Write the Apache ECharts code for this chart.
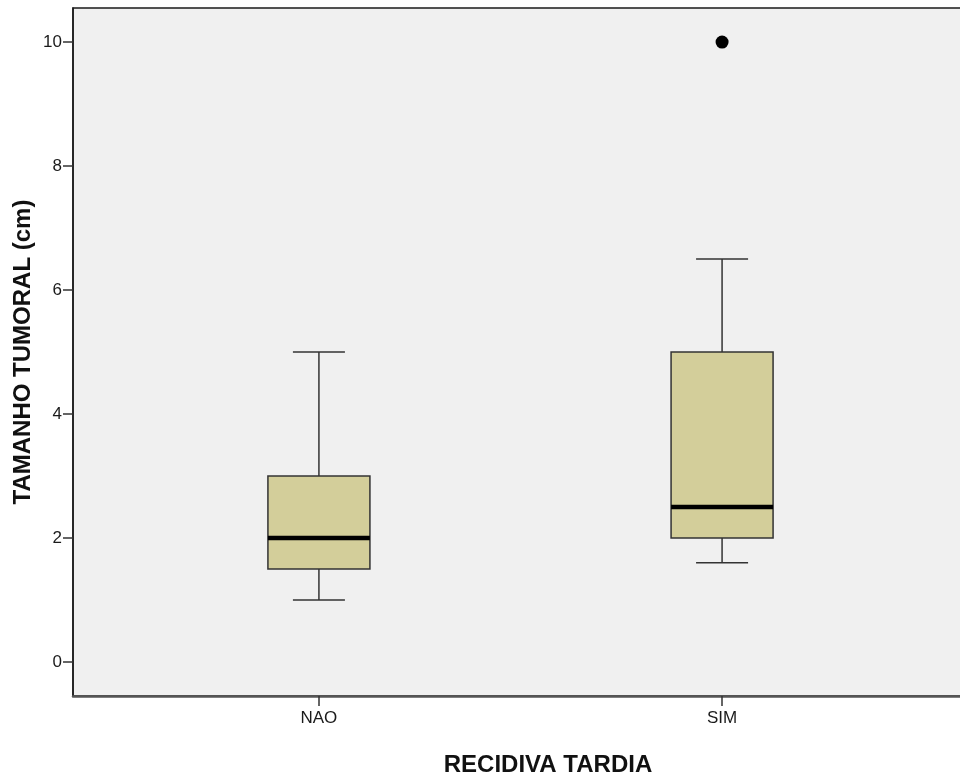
<!DOCTYPE html>
<html>
<head>
<meta charset="utf-8">
<title>Tamanho tumoral por recidiva tardia</title>
<script src="https://cdn.jsdelivr.net/npm/echarts@6/dist/echarts.min.js"></script>
<style>
  html, body { margin: 0; padding: 0; background: #ffffff; }
  #chart { width: 960px; height: 783px; }
</style>
</head>
<body>
<div id="chart"></div>
<script>
// Groups and five-number summaries (cm)
const categories = ['NAO', 'SIM'];
const whiskerLow = [1.0, 1.6];
const quartile1 = [1.5, 2.0];
const medians = [2.0, 2.5];
const quartile3 = [3.0, 5.0];
const whiskerHigh = [5.0, 6.5];
// Outliers as [group index, value]
const outliers = [[1, 10]];
// Y tick labels
const yTicks = [0, 2, 4, 6, 8, 10];

const boxRows = categories.map((c, i) => [i, whiskerLow[i], quartile1[i], medians[i], quartile3[i], whiskerHigh[i]]);

const FONT = 'Arial, "Liberation Sans", sans-serif';
const BOX_W = 0.253;   // box width in x units
const CAP_W = 0.129;   // whisker cap width in x units

function renderBox(params, api) {
  const i = api.value(0);
  const lo = api.coord([i, api.value(1)]);
  const q1 = api.coord([i, api.value(2)]);
  const med = api.coord([i, api.value(3)]);
  const q3 = api.coord([i, api.value(4)]);
  const hi = api.coord([i, api.value(5)]);
  const bw = api.size([BOX_W, 0])[0];
  const cw = api.size([CAP_W, 0])[0];
  const x = lo[0];
  const lineStyle = { stroke: '#333333', lineWidth: 1.5 };
  return {
    type: 'group',
    children: [
      { type: 'line', shape: { x1: x, y1: q3[1], x2: x, y2: hi[1] }, style: lineStyle },
      { type: 'line', shape: { x1: x, y1: q1[1], x2: x, y2: lo[1] }, style: lineStyle },
      { type: 'line', shape: { x1: x - cw / 2, y1: hi[1], x2: x + cw / 2, y2: hi[1] }, style: lineStyle },
      { type: 'line', shape: { x1: x - cw / 2, y1: lo[1], x2: x + cw / 2, y2: lo[1] }, style: lineStyle },
      { type: 'rect', shape: { x: x - bw / 2, y: q3[1], width: bw, height: q1[1] - q3[1] },
        style: { fill: '#D3CE9A', stroke: '#333333', lineWidth: 1.5 } },
      { type: 'line', shape: { x1: x - bw / 2, y1: med[1], x2: x + bw / 2, y2: med[1] },
        style: { stroke: '#000000', lineWidth: 4.5 } }
    ]
  };
}

const chart = echarts.init(document.getElementById('chart'), null, { renderer: 'canvas' });
chart.setOption({
  backgroundColor: '#ffffff',
  animation: false,
  grid: {
    left: 73, top: 8, width: 895, bottom: 87,
    outerBoundsMode: 'none',
    show: true, backgroundColor: '#F0F0F0', borderColor: '#1a1a1a', borderWidth: 1.5,
    containLabel: false
  },
  xAxis: {
    type: 'value', min: -0.61, max: 1.61,
    splitLine: { show: false },
    axisLine: { show: true, onZero: false, lineStyle: { color: '#555555', width: 2.5 } },
    axisTick: { show: true, inside: false, length: 10, customValues: [0, 1], lineStyle: { color: '#333333', width: 1.5 } },
    axisLabel: {
      customValues: [0, 1], margin: 14,
      formatter: v => categories[Math.round(v)] || '',
      fontFamily: FONT, fontSize: 17, color: '#1a1a1a'
    }
  },
  yAxis: {
    type: 'value', min: -0.55, max: 10.55,
    splitLine: { show: false },
    axisLine: { show: true, onZero: false, lineStyle: { color: '#1a1a1a', width: 1.5 } },
    axisTick: { show: true, inside: false, length: 10, customValues: yTicks, lineStyle: { color: '#333333', width: 1.5 } },
    axisLabel: {
      customValues: yTicks, margin: 11,
      fontFamily: FONT, fontSize: 17, color: '#1a1a1a'
    }
  },
  graphic: [
    { type: 'text', x: 548, y: 765,
      style: { text: 'RECIDIVA TARDIA', font: 'bold 24px ' + FONT, fill: '#111111', align: 'center', verticalAlign: 'middle' } },
    { type: 'text', x: 23, y: 352, rotation: Math.PI / 2,
      style: { text: 'TAMANHO TUMORAL (cm)', font: 'bold 24px ' + FONT, fill: '#111111', align: 'center', verticalAlign: 'middle' } }
  ],
  series: [
    {
      type: 'custom', renderItem: renderBox, data: boxRows,
      encode: { x: 0, y: [1, 2, 3, 4, 5] }, clip: false
    },
    {
      type: 'scatter', data: outliers, symbol: 'circle', symbolSize: 13,
      itemStyle: { color: '#000000', opacity: 1 }
    }
  ]
});
</script>
</body>
</html>
